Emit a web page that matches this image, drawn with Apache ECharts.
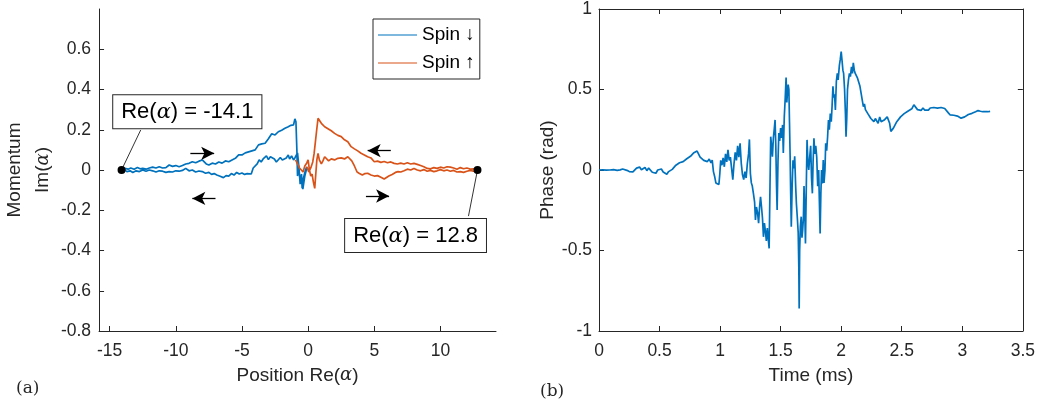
<!DOCTYPE html>
<html>
<head>
<meta charset="utf-8">
<script src="https://cdn.jsdelivr.net/npm/echarts@6/dist/echarts.min.js"></script>
<style>
html,body{margin:0;padding:0;background:#fff;}
#c{width:1038px;height:403px;}
</style>
</head>
<body>
<div id="c"></div>
<script>
// ---------- Panel (a): phase-space trajectories ----------
const blueRe = [-0.10,-0.25,-0.40,-0.50,-0.60,-0.70,-0.80,-0.88,-1.00,-1.10,-1.25,-1.40,-1.50,-1.65,-1.80,-1.95,-2.10,-2.25,-2.40,-2.55,-2.70,-2.85,-3.00,-3.15,-3.25,-3.40,-3.55,-3.70,-3.85,-4.00,-4.15,-4.30,-4.45,-4.60,-4.80,-5.00,-5.20,-5.40,-5.60,-5.80,-6.00,-6.20,-6.40,-6.55,-6.70,-6.90,-7.10,-7.30,-7.50,-7.75,-8.00,-8.25,-8.50,-8.75,-9.00,-9.25,-9.50,-9.75,-10.00,-10.25,-10.50,-10.75,-11.00,-11.25,-11.50,-11.75,-12.00,-12.25,-12.50,-12.75,-13.00,-13.25,-13.45,-13.70,-13.90,-14.10,
  -13.85,-13.60,-13.40,-13.15,-12.90,-12.70,-12.50,-12.25,-12.00,-11.75,-11.50,-11.25,-11.00,-10.75,-10.50,-10.25,-10.00,-9.75,-9.50,-9.25,-9.00,-8.75,-8.50,-8.25,-8.00,-7.85,-7.70,-7.50,-7.25,-7.00,-6.75,-6.50,-6.25,-6.00,-5.75,-5.50,-5.25,-5.00,-4.75,-4.50,-4.25,-4.00,-3.75,-3.50,-3.25,-3.00,-2.75,-2.50,-2.25,-2.00,-1.75,-1.50,-1.30,-1.10,-1.00,-0.92,-0.85,-0.80,-0.72,-0.60,-0.50,-0.45,-0.35,-0.20,-0.10];
const blueIm = [0.010,-0.030,-0.095,-0.040,-0.070,0.020,0.085,0.083,0.060,0.050,0.070,0.055,0.075,0.060,0.068,0.050,0.062,0.058,0.040,0.055,0.048,0.066,0.052,0.070,0.062,0.055,0.040,0.050,0.030,0.033,0.010,-0.020,-0.025,-0.018,-0.022,-0.015,-0.020,-0.012,-0.025,-0.018,-0.030,-0.028,-0.038,-0.045,-0.030,-0.025,-0.018,-0.022,-0.012,-0.016,-0.008,-0.005,-0.010,0.000,-0.004,0.008,-0.002,-0.006,-0.004,-0.010,-0.008,-0.012,-0.006,-0.004,-0.010,-0.004,0.000,-0.006,0.000,-0.008,-0.004,-0.012,-0.004,-0.008,0.002,0.000,
  0.008,0.004,0.010,0.004,0.012,0.006,0.008,0.004,0.010,0.014,0.010,0.016,0.010,0.012,0.025,0.018,0.022,0.016,0.022,0.030,0.033,0.041,0.036,0.044,0.050,0.040,0.030,0.025,0.034,0.030,0.040,0.034,0.045,0.041,0.050,0.058,0.075,0.075,0.085,0.090,0.095,0.100,0.125,0.130,0.133,0.155,0.180,0.174,0.190,0.198,0.207,0.215,0.222,0.224,0.254,0.240,0.100,-0.030,0.020,-0.060,-0.020,-0.090,-0.040,0.000,0.016];
const orangeRe = [-0.95,-0.80,-0.65,-0.50,-0.38,-0.25,-0.10,0.00,0.10,0.20,0.30,0.40,0.50,0.58,0.66,0.75,0.85,1.00,1.12,1.25,1.40,1.55,1.75,2.00,2.25,2.50,2.75,3.00,3.13,3.30,3.50,3.70,3.88,4.10,4.30,4.50,4.75,5.00,5.25,5.50,5.75,5.90,6.10,6.35,6.60,6.80,7.00,7.25,7.50,7.75,8.00,8.25,8.50,8.75,9.00,9.25,9.50,9.75,10.00,10.25,10.50,10.75,11.00,11.25,11.50,11.75,12.00,12.25,12.50,12.80,
  12.55,12.30,12.00,11.75,11.50,11.25,11.00,10.75,10.50,10.25,10.00,9.75,9.50,9.25,9.00,8.75,8.50,8.25,8.00,7.75,7.50,7.25,7.00,6.75,6.50,6.25,6.00,5.75,5.50,5.25,5.00,4.75,4.50,4.25,4.00,3.75,3.50,3.25,3.00,2.75,2.50,2.25,2.00,1.75,1.50,1.25,1.00,0.85,0.75,0.65,0.55,0.45,0.35,0.20,0.05,-0.10];
const orangeIm = [0.050,0.030,0.010,0.008,-0.010,0.020,0.035,0.050,0.000,-0.030,-0.020,-0.060,-0.091,-0.020,0.050,0.083,0.050,0.030,0.045,0.066,0.060,0.045,0.055,0.050,0.058,0.060,0.055,0.066,0.066,0.045,0.020,-0.010,-0.017,-0.025,-0.018,-0.016,-0.025,-0.030,-0.028,-0.036,-0.045,-0.040,-0.030,-0.022,-0.012,-0.008,-0.010,-0.004,0.004,0.000,0.008,0.000,-0.004,0.002,-0.006,-0.002,-0.008,-0.004,0.002,-0.004,0.000,-0.006,-0.002,-0.010,-0.008,-0.012,-0.006,-0.002,-0.006,0.000,
  0.006,0.004,0.010,0.006,0.012,0.004,0.010,0.014,0.016,0.010,0.014,0.008,0.012,0.006,0.008,0.016,0.022,0.028,0.033,0.030,0.036,0.030,0.034,0.030,0.033,0.040,0.036,0.042,0.038,0.044,0.041,0.060,0.066,0.075,0.083,0.095,0.105,0.116,0.140,0.150,0.166,0.172,0.182,0.195,0.205,0.215,0.232,0.240,0.257,0.200,0.140,0.080,0.040,0.010,-0.010,0.016];
const endPoints = [[-14.1, 0], [12.8, 0]];
const endLabels = ['-14.1', '12.8'];
const xTicksA = [-15, -10, -5, 0, 5, 10];
const yTicksA = [-0.8, -0.6, -0.4, -0.2, 0, 0.2, 0.4, 0.6];

// ---------- Panel (b): phase vs time ----------
const phaseT = [0.000,0.030,0.060,0.090,0.120,0.150,0.175,0.195,0.210,0.230,0.250,0.265,0.280,0.295,0.310,0.320,0.335,0.350,0.365,0.380,0.395,0.410,0.425,0.440,0.455,0.470,0.485,0.500,0.515,0.530,0.545,0.560,0.575,0.590,0.605,0.620,0.635,0.650,0.665,0.680,0.695,0.710,0.725,0.740,0.755,0.770,0.780,0.795,0.810,0.825,0.835,0.850,0.865,0.880,0.895,0.910,0.925,0.935,0.945,0.955,0.965,0.978,0.990,0.998,1.005,1.015,1.025,1.035,1.045,1.055,1.065,1.075,1.085,1.095,1.105,1.115,1.125,1.135,1.145,1.155,1.165,1.175,1.185,1.195,1.205,1.215,1.225,1.235,1.242,1.250,1.258,1.266,1.275,1.285,1.292,1.300,1.310,1.318,1.326,1.334,1.342,1.350,1.358,1.366,1.374,1.382,1.390,1.398,1.405,1.412,1.418,1.425,1.432,1.440,1.448,1.454,1.460,1.466,1.471,1.478,1.485,1.492,1.500,1.508,1.516,1.522,1.530,1.538,1.545,1.551,1.556,1.562,1.568,1.573,1.578,1.583,1.588,1.595,1.602,1.610,1.616,1.624,1.630,1.638,1.645,1.650,1.653,1.657,1.663,1.670,1.676,1.682,1.688,1.693,1.699,1.705,1.712,1.718,1.725,1.732,1.740,1.748,1.755,1.762,1.768,1.775,1.782,1.790,1.798,1.806,1.814,1.820,1.826,1.832,1.838,1.845,1.852,1.858,1.866,1.872,1.880,1.888,1.895,1.902,1.910,1.918,1.925,1.932,1.938,1.945,1.952,1.960,1.968,1.975,1.985,1.992,2.000,2.007,2.014,2.020,2.028,2.035,2.040,2.046,2.052,2.060,2.068,2.076,2.085,2.093,2.100,2.108,2.116,2.125,2.135,2.145,2.155,2.165,2.175,2.183,2.192,2.200,2.210,2.220,2.232,2.245,2.258,2.270,2.282,2.293,2.305,2.318,2.330,2.342,2.355,2.368,2.380,2.390,2.400,2.410,2.420,2.431,2.445,2.459,2.475,2.490,2.505,2.520,2.535,2.550,2.565,2.583,2.600,2.615,2.630,2.645,2.660,2.675,2.690,2.705,2.720,2.735,2.750,2.765,2.780,2.795,2.810,2.825,2.840,2.855,2.870,2.885,2.900,2.915,2.930,2.945,2.960,2.975,2.990,3.005,3.020,3.035,3.050,3.065,3.080,3.095,3.110,3.130,3.150,3.170,3.190,3.210,3.230];
const phaseV = [0.000,0.001,-0.001,0.000,0.002,-0.002,0.001,0.006,-0.004,-0.002,-0.010,-0.022,-0.012,-0.006,0.012,0.004,0.018,0.002,0.010,0.016,-0.004,0.012,0.004,-0.014,-0.008,-0.020,0.000,0.010,0.006,-0.012,-0.006,-0.026,-0.010,-0.016,0.004,0.000,0.030,0.024,0.045,0.038,0.052,0.046,0.070,0.064,0.085,0.090,0.105,0.098,0.118,0.112,0.080,0.070,0.060,0.072,0.052,0.068,0.045,0.062,-0.010,-0.040,-0.080,-0.070,-0.090,-0.020,0.060,0.030,0.075,0.020,0.100,0.050,0.125,0.060,0.080,0.010,-0.060,0.040,0.110,0.060,0.150,0.080,0.166,0.040,-0.030,-0.060,-0.010,-0.050,0.040,0.100,0.190,-0.020,-0.080,-0.100,-0.145,-0.200,-0.310,-0.230,-0.270,-0.330,-0.230,-0.166,-0.230,-0.300,-0.415,-0.330,-0.380,-0.440,-0.360,-0.430,-0.487,-0.100,0.207,0.150,0.083,0.200,0.260,0.311,0.150,-0.100,-0.249,0.050,0.230,0.180,0.260,0.200,0.280,0.105,0.330,0.450,0.575,0.420,0.480,0.530,0.500,0.300,0.100,-0.150,-0.353,-0.100,0.060,0.010,0.085,-0.100,-0.207,-0.300,-0.390,-0.600,-0.860,-0.500,-0.350,-0.290,-0.420,-0.370,-0.300,-0.100,-0.250,-0.456,-0.100,0.187,0.050,0.000,0.080,0.150,-0.050,-0.145,0.050,0.197,0.100,0.150,0.080,-0.100,0.000,-0.200,-0.394,-0.150,0.000,-0.083,0.062,-0.080,0.000,0.166,0.120,0.210,0.310,0.250,0.350,0.300,0.400,0.520,0.450,0.470,0.373,0.550,0.600,0.560,0.650,0.685,0.735,0.680,0.620,0.600,0.500,0.350,0.207,0.320,0.500,0.560,0.600,0.580,0.640,0.600,0.665,0.620,0.600,0.590,0.570,0.560,0.520,0.475,0.430,0.394,0.410,0.375,0.370,0.350,0.353,0.320,0.330,0.300,0.320,0.310,0.290,0.330,0.300,0.290,0.310,0.300,0.330,0.320,0.290,0.240,0.238,0.260,0.280,0.300,0.310,0.330,0.340,0.350,0.353,0.365,0.370,0.380,0.405,0.395,0.375,0.373,0.370,0.385,0.372,0.380,0.372,0.385,0.376,0.388,0.380,0.384,0.382,0.388,0.380,0.382,0.370,0.355,0.342,0.345,0.340,0.345,0.335,0.330,0.322,0.320,0.330,0.342,0.345,0.348,0.352,0.355,0.362,0.369,0.365,0.362,0.363,0.362,0.364,0.362,0.363];

const BLUE = '#0072BD', ORANGE = '#D95319', INK = '#262626';
const SANS = 'Liberation Sans';
const zip = (a, b) => a.map((v, i) => [v, b[i]]);

const axisCommon = {
  axisLine: { show: true, onZero: false, lineStyle: { color: INK, width: 1 } },
  axisTick: { show: true, inside: true, length: 5, lineStyle: { color: INK } },
  axisLabel: { color: INK, fontFamily: SANS, fontSize: 17.5 },
  splitLine: { show: false },
  nameTextStyle: { color: INK, fontFamily: SANS, fontSize: 19,
    rich: { a: { fontFamily: 'DejaVu Serif', fontStyle: 'italic', fontSize: 18, color: INK } } }
};

function arrow(x1, x2, y) {
  return [{ coord: [x1, y] }, { coord: [x2, y] }];
}

const chart = echarts.init(document.getElementById('c'), null, { renderer: 'canvas' });
chart.setOption({
  animation: false,
  backgroundColor: '#fff',
  title: [
    { text: '(a)', left: 11, top: 375, textStyle: { fontFamily: 'DejaVu Serif', fontWeight: 'normal', fontSize: 17, color: INK } },
    { text: '(b)', left: 535, top: 378, textStyle: { fontFamily: 'DejaVu Serif', fontWeight: 'normal', fontSize: 17, color: INK } }
  ],
  legend: {
    left: 373, top: 19, orient: 'vertical',
    data: [{ name: 'Spin ↓', icon: 'rect' }, { name: 'Spin ↑', icon: 'rect' }],
    itemWidth: 39, itemHeight: 1, itemGap: 8,
    padding: [6, 5, 6, 5],
    borderColor: INK, borderWidth: 1, backgroundColor: '#fff',
    textStyle: { fontFamily: SANS, fontSize: 19, color: '#000', lineHeight: 20 }
  },
  grid: [
    { left: 97, top: 9, width: 399, height: 322 },
    { left: 599, top: 9, width: 424, height: 322 }
  ],
  xAxis: [
    Object.assign({}, axisCommon, {
      gridIndex: 0, type: 'value', min: -15.8, max: 14.2,
      axisTick: Object.assign({}, axisCommon.axisTick, { customValues: xTicksA }),
      axisLabel: Object.assign({}, axisCommon.axisLabel, { customValues: xTicksA, margin: 11 }),
      name: 'Position Re({a|α})', nameLocation: 'middle', nameGap: 35
    }),
    Object.assign({}, axisCommon, {
      gridIndex: 1, type: 'value', min: 0, max: 3.5, interval: 0.5,
      axisLabel: Object.assign({}, axisCommon.axisLabel, { margin: 11 }),
      name: 'Time (ms)', nameLocation: 'middle', nameGap: 35
    }),
    Object.assign({}, axisCommon, {
      gridIndex: 1, type: 'value', min: 0, max: 3.5, interval: 0.5, position: 'top',
      axisLabel: { show: false }
    })
  ],
  yAxis: [
    Object.assign({}, axisCommon, {
      gridIndex: 0, type: 'value', min: -0.8, max: 0.8, interval: 0.2,
      axisTick: Object.assign({}, axisCommon.axisTick, { customValues: yTicksA }),
      axisLabel: Object.assign({}, axisCommon.axisLabel, { customValues: yTicksA, margin: 8 }),
      name: 'Momentum\nIm({a|α})', nameLocation: 'middle', nameGap: 32,
      nameTextStyle: Object.assign({}, axisCommon.nameTextStyle, { lineHeight: 28 })
    }),
    Object.assign({}, axisCommon, {
      gridIndex: 1, type: 'value', min: -1, max: 1, interval: 0.5,
      axisLabel: Object.assign({}, axisCommon.axisLabel, { margin: 7 }),
      name: 'Phase (rad)', nameLocation: 'middle', nameGap: 42
    }),
    Object.assign({}, axisCommon, {
      gridIndex: 1, type: 'value', min: -1, max: 1, interval: 0.5, position: 'right',
      axisLabel: { show: false }
    })
  ],
  series: [
    {
      name: 'Spin ↓', type: 'line', xAxisIndex: 0, yAxisIndex: 0,
      data: zip(blueRe, blueIm), symbol: 'none', showSymbol: false,
      lineStyle: { color: BLUE, width: 1.7 }, itemStyle: { color: BLUE }, z: 2
    },
    {
      name: 'Spin ↑', type: 'line', xAxisIndex: 0, yAxisIndex: 0,
      data: zip(orangeRe, orangeIm), symbol: 'none', showSymbol: false,
      lineStyle: { color: ORANGE, width: 1.7 }, itemStyle: { color: ORANGE }, z: 3
    },
    {
      name: 'ends', type: 'scatter', xAxisIndex: 0, yAxisIndex: 0,
      data: endPoints, symbolSize: 8, itemStyle: { color: '#000', opacity: 1 }, z: 6,
      markLine: {
        silent: true, symbol: ['none', 'none'], animation: false,
        lineStyle: { color: '#000', width: 0.8, type: 'solid' },
        label: { show: false },
        data: [
          [{ coord: [-14.1, 0] }, { coord: [-12.65, 0.199] }],
          [{ coord: [12.8, 0] }, { coord: [12.12, -0.229] }]
        ]
      },
      markPoint: {
        silent: true, symbol: 'rect', symbolSize: 1, itemStyle: { color: 'rgba(0,0,0,0)' },
        label: {
          show: true, position: 'inside', color: '#000', fontFamily: SANS, fontSize: 22,
          backgroundColor: '#fff', borderColor: INK, borderWidth: 1, padding: [6, 8, 5, 8],
          rich: { a: { fontFamily: 'DejaVu Serif', fontStyle: 'italic', fontSize: 21, color: '#000' } }
        },
        data: [
          { coord: [-9.13, 0.29], label: { formatter: 'Re({a|α}) = ' + endLabels[0] } },
          { coord: [8.12, -0.326], label: { formatter: 'Re({a|α}) = ' + endLabels[1] } }
        ]
      }
    },
    {
      name: 'arrows', type: 'line', xAxisIndex: 0, yAxisIndex: 0, data: [],
      markLine: {
        silent: true, symbol: ['none', 'arrow'], symbolSize: [10, 13], animation: false,
        lineStyle: { color: '#000', width: 1.3, type: 'solid' },
        label: { show: false },
        data: [
          arrow(-8.9, -7.1, 0.083),
          arrow(-7.0, -8.75, -0.141),
          arrow(6.25, 4.5, 0.096),
          arrow(4.37, 6.12, -0.129)
        ]
      }
    },
    {
      name: 'Phase', type: 'line', xAxisIndex: 1, yAxisIndex: 1,
      data: zip(phaseT, phaseV), symbol: 'none', showSymbol: false,
      lineStyle: { color: BLUE, width: 1.7 }
    }
  ]
});
</script>
</body>
</html>
